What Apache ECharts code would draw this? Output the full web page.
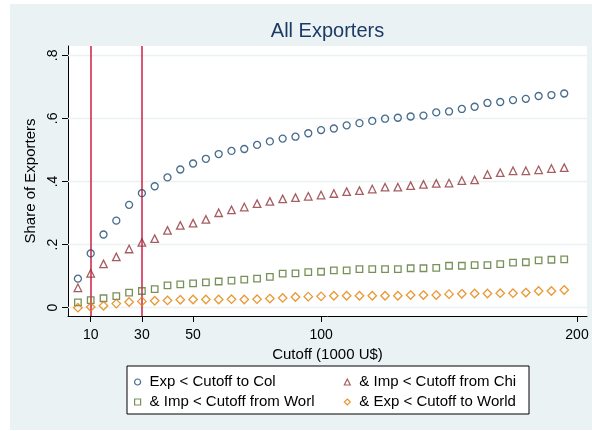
<!DOCTYPE html>
<html>
<head>
<meta charset="utf-8">
<script src="https://cdn.jsdelivr.net/npm/echarts@6/dist/echarts.min.js"></script>
<style>
  html, body { margin: 0; padding: 0; background: #ffffff; }
  #chart { width: 592px; height: 431px; }
</style>
</head>
<body>
<div id="chart"></div>
<script>
// Cutoff values (thousand US$)
const cutoffs = [5, 10, 15, 20, 25, 30, 35, 40, 45, 50, 55, 60, 65, 70, 75, 80, 85, 90, 95, 100,
                 105, 110, 115, 120, 125, 130, 135, 140, 145, 150, 155, 160, 165, 170, 175, 180, 185, 190, 195];

// Share of exporters under each condition
const expToCol = [0.092, 0.172, 0.232, 0.276, 0.326, 0.363, 0.385, 0.413, 0.438, 0.457,
                  0.472, 0.487, 0.497, 0.503, 0.516, 0.527, 0.536, 0.542, 0.553, 0.563,
                  0.568, 0.578, 0.585, 0.592, 0.599, 0.602, 0.606, 0.609, 0.619, 0.622,
                  0.630, 0.637, 0.649, 0.652, 0.658, 0.662, 0.671, 0.674, 0.679];
const impFromChi = [0.063, 0.109, 0.139, 0.161, 0.186, 0.207, 0.219, 0.245, 0.261, 0.268,
                    0.280, 0.301, 0.310, 0.319, 0.330, 0.337, 0.345, 0.349, 0.353, 0.357,
                    0.362, 0.368, 0.371, 0.376, 0.382, 0.382, 0.387, 0.391, 0.394, 0.395,
                    0.403, 0.405, 0.422, 0.428, 0.434, 0.434, 0.437, 0.441, 0.444];
const impFromWorl = [0.017, 0.024, 0.030, 0.037, 0.048, 0.053, 0.059, 0.071, 0.074, 0.077,
                     0.080, 0.083, 0.086, 0.089, 0.092, 0.098, 0.108, 0.109, 0.113, 0.114,
                     0.118, 0.118, 0.122, 0.122, 0.122, 0.122, 0.125, 0.125, 0.126, 0.133,
                     0.133, 0.135, 0.135, 0.138, 0.143, 0.144, 0.150, 0.152, 0.153];
const expToWorld = [0.000, 0.002, 0.006, 0.013, 0.018, 0.020, 0.022, 0.023, 0.025, 0.026,
                    0.026, 0.026, 0.027, 0.026, 0.027, 0.029, 0.031, 0.034, 0.035, 0.036,
                    0.038, 0.038, 0.038, 0.038, 0.038, 0.038, 0.040, 0.040, 0.040, 0.043,
                    0.044, 0.045, 0.045, 0.046, 0.046, 0.048, 0.053, 0.053, 0.056];

const seriesNames = ['Exp < Cutoff to Col', '& Imp < Cutoff from Chi',
                     '& Imp < Cutoff from Worl', '& Exp < Cutoff to World'];

// Axis ticks and labels
const xTicks = [10, 30, 50, 100, 200];
const yTicks = [0, 0.2, 0.4, 0.6, 0.8];
const yTickLabels = ['0', '.2', '.4', '.6', '.8'];
// Reference cutoffs marked with vertical lines
const refCutoffs = [10, 30];

const FONT = '"Liberation Sans", Arial, sans-serif';
const NAVY = '#1a476f', MAROON = '#90353b', FOREST = '#55752f', ORANGE = '#e37e00';

function pairs(ys) { return cutoffs.map((x, i) => [x, ys[i]]); }

function hollow(name, ys, symbol, size, color, extra) {
  return Object.assign({
    name: name,
    type: 'scatter',
    data: pairs(ys),
    symbol: symbol,
    symbolSize: size,
    itemStyle: { color: 'rgba(0,0,0,0)', borderColor: color, borderWidth: 1.3 },
    emphasis: { disabled: true },
    z: 3
  }, extra || {});
}

const chart = echarts.init(document.getElementById('chart'), null, { renderer: 'canvas' });

const legendCommon = {
  orient: 'vertical',
  top: 374.5,
  itemWidth: 6,
  itemHeight: 6,
  itemGap: 5,
  padding: 0,
  selectedMode: false,
  itemStyle: { borderWidth: 1.2 },
  textStyle: { fontFamily: FONT, fontSize: 15, color: '#000', lineHeight: 15, padding: [0, 0, 0, 4] }
};

chart.setOption({
  animation: false,
  backgroundColor: '#ffffff',
  textStyle: { fontFamily: FONT },
  graphic: [
    { type: 'rect', z: -10, silent: true,
      shape: { x: 10, y: 4, width: 582, height: 426 },
      style: { fill: '#eaf2f3' } },
    { type: 'rect', z: 0, silent: true,
      shape: { x: 127, y: 366, width: 402, height: 48 },
      style: { fill: '#ffffff', stroke: '#000000', lineWidth: 1 } }
  ],
  title: {
    text: 'All Exporters',
    left: 327.5,
    top: 21,
    padding: 0,
    textAlign: 'center',
    textStyle: { fontFamily: FONT, fontSize: 20, fontWeight: 'normal', color: '#1c3a66' }
  },
  legend: [
    Object.assign({ left: 134, data: [seriesNames[0], seriesNames[2]] }, legendCommon),
    Object.assign({ left: 343.7, data: [seriesNames[1], seriesNames[3]] }, legendCommon)
  ],
  grid: {
    left: 68, top: 46, width: 519, height: 270,
    show: true, backgroundColor: '#ffffff', borderWidth: 0
  },
  xAxis: {
    type: 'value',
    min: 1.13, max: 203.9,
    name: 'Cutoff (1000 U$)',
    nameLocation: 'middle',
    nameGap: 22,
    nameTextStyle: { fontFamily: FONT, fontSize: 15, color: '#000' },
    axisLine: { show: true, onZero: false, lineStyle: { color: '#000', width: 1 } },
    axisTick: { show: true, length: 6, customValues: xTicks, lineStyle: { color: '#000', width: 1 } },
    axisLabel: { customValues: xTicks, margin: 12, fontFamily: FONT, fontSize: 14, color: '#000' },
    splitLine: { show: false }
  },
  yAxis: {
    type: 'value',
    min: -0.0263, max: 0.8295,
    name: 'Share of Exporters',
    nameLocation: 'middle',
    nameGap: 21.5,
    nameTextStyle: { fontFamily: FONT, fontSize: 15, color: '#000' },
    axisLine: { show: true, onZero: false, lineStyle: { color: '#000', width: 1 } },
    axisTick: { show: true, length: 6, customValues: yTicks, lineStyle: { color: '#000', width: 1 } },
    axisLabel: {
      customValues: yTicks, rotate: 90, margin: 8,
      fontFamily: FONT, fontSize: 14, color: '#000',
      formatter: v => {
        const i = yTicks.findIndex(t => Math.abs(t - v) < 1e-9);
        return i >= 0 ? yTickLabels[i] : '';
      }
    },
    splitLine: { show: false }
  },
  series: [
    hollow(seriesNames[0], expToCol, 'circle', 7, NAVY, {
      markLine: {
        silent: true, z: 1, symbol: ['none', 'none'],
        label: { show: false },
        lineStyle: { color: '#eaf2f3', width: 1.3, type: 'solid' },
        emphasis: { disabled: true },
        data: yTicks.map(v => ({ yAxis: v }))
      }
    }),
    hollow(seriesNames[1], impFromChi, 'triangle', 7.5, MAROON, {
      markLine: {
        silent: true, z: 2, symbol: ['none', 'none'],
        label: { show: false },
        lineStyle: { color: '#cf1f45', width: 1.5, type: 'solid' },
        emphasis: { disabled: true },
        data: refCutoffs.map(v => ({ xAxis: v }))
      }
    }),
    hollow(seriesNames[2], impFromWorl, 'rect', 6.5, FOREST),
    hollow(seriesNames[3], expToWorld, 'diamond', 8.5, ORANGE)
  ]
});
</script>
</body>
</html>
